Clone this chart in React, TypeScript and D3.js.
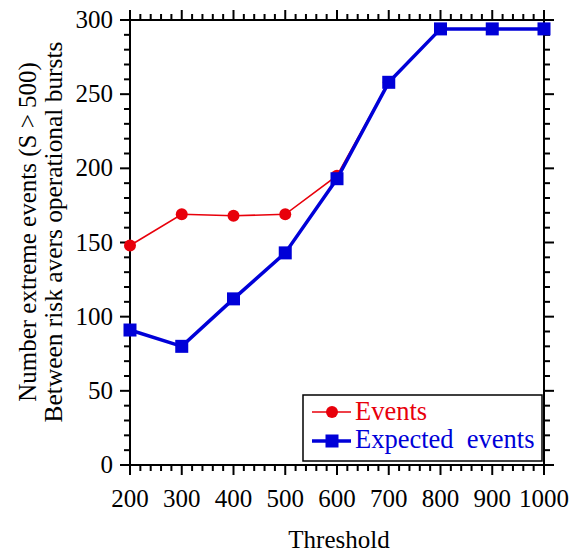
import React from "react";
import * as d3 from "d3";

const thresholds = [200, 300, 400, 500, 600, 700, 800, 900, 1000];
const events = [148, 169, 168, 169, 195, 258, 294, 294, 294];
const expectedEvents = [91, 80, 112, 143, 193, 258, 294, 294, 294];
const xTicks = [200, 300, 400, 500, 600, 700, 800, 900, 1000];
const yTicks = [0, 50, 100, 150, 200, 250, 300];

const W = 576;
const H = 555;
const left = 130;
const right = 544;
const top = 20;
const bottom = 465;
const font = "'Liberation Serif', 'Times New Roman', serif";
const red = "#e8000b";
const blue = "#0000d8";

export default function App() {
  const x = d3.scaleLinear().domain([200, 1000]).range([left, right]);
  const y = d3.scaleLinear().domain([0, 300]).range([bottom, top]);
  const line = d3
    .line<number>()
    .x((_, i) => x(thresholds[i]))
    .y((d) => y(d));

  const xMinor = d3.range(200, 1001, 20);
  const yMinor = d3.range(0, 301, 10);
  const majLen = 10;
  const minLen = 6;

  return (
    <svg width={W} height={H} style={{ position: "absolute", left: 0, top: 0 }}>
      <rect width={W} height={H} fill="white" />
      {/* frame */}
      <rect x={left} y={top} width={right - left} height={bottom - top} fill="none" stroke="black" strokeWidth={2} />
      {/* ticks on all four sides, pointing outward */}
      {xMinor.map((v) => {
        const len = v % 100 === 0 ? majLen : minLen;
        return (
          <g key={"xt" + v} stroke="black" strokeWidth={2}>
            <line x1={x(v)} x2={x(v)} y1={bottom} y2={bottom + len} />
            <line x1={x(v)} x2={x(v)} y1={top} y2={top - len} />
          </g>
        );
      })}
      {yMinor.map((v) => {
        const len = v % 50 === 0 ? majLen : minLen;
        return (
          <g key={"yt" + v} stroke="black" strokeWidth={2}>
            <line x1={left} x2={left - len} y1={y(v)} y2={y(v)} />
            <line x1={right} x2={right + len} y1={y(v)} y2={y(v)} />
          </g>
        );
      })}
      {xTicks.map((v) => (
        <text key={"xl" + v} x={x(v)} y={507} textAnchor="middle" fontFamily={font} fontSize={25} fill="black">
          {v}
        </text>
      ))}
      {yTicks.map((v) => (
        <text key={"yl" + v} x={113} y={y(v) + 8} textAnchor="end" fontFamily={font} fontSize={25} fill="black">
          {v}
        </text>
      ))}
      <text x={339} y={548} textAnchor="middle" fontFamily={font} fontSize={25} fill="black">
        Threshold
      </text>
      <g transform="translate(36, 232) rotate(-90)">
        <text x={0} y={0} textAnchor="middle" fontFamily={font} fontSize={25} fill="black">
          Number extreme events (S &gt; 500)
        </text>
        <text x={0} y={26} textAnchor="middle" fontFamily={font} fontSize={25.4} fill="black">
          Between risk avers operational bursts
        </text>
      </g>

      {/* Events series */}
      <path d={line(events) ?? ""} fill="none" stroke={red} strokeWidth={1.6} />
      {events.map((v, i) => (
        <circle key={"e" + i} cx={x(thresholds[i])} cy={y(v)} r={6} fill={red} />
      ))}
      {/* Expected events series */}
      <path d={line(expectedEvents) ?? ""} fill="none" stroke={blue} strokeWidth={3.5} />
      {expectedEvents.map((v, i) => (
        <rect key={"x" + i} x={x(thresholds[i]) - 6.5} y={y(v) - 6.5} width={13} height={13} fill={blue} />
      ))}

      {/* legend */}
      <rect x={303} y={395} width={239} height={66} fill="white" stroke="black" strokeWidth={1.5} />
      <line x1={312} x2={351} y1={412} y2={412} stroke={red} strokeWidth={1.6} />
      <circle cx={332} cy={412} r={6} fill={red} />
      <text x={355} y={420} fontFamily={font} fontSize={26.5} fill={red}>Events</text>
      <line x1={312} x2={351} y1={441} y2={441} stroke={blue} strokeWidth={3.5} />
      <rect x={325.5} y={434.5} width={13} height={13} fill={blue} />
      <text x={355} y={448} fontFamily={font} fontSize={26.5} fill={blue} style={{ whiteSpace: "pre" }}>
        Expected  events
      </text>
    </svg>
  );
}
